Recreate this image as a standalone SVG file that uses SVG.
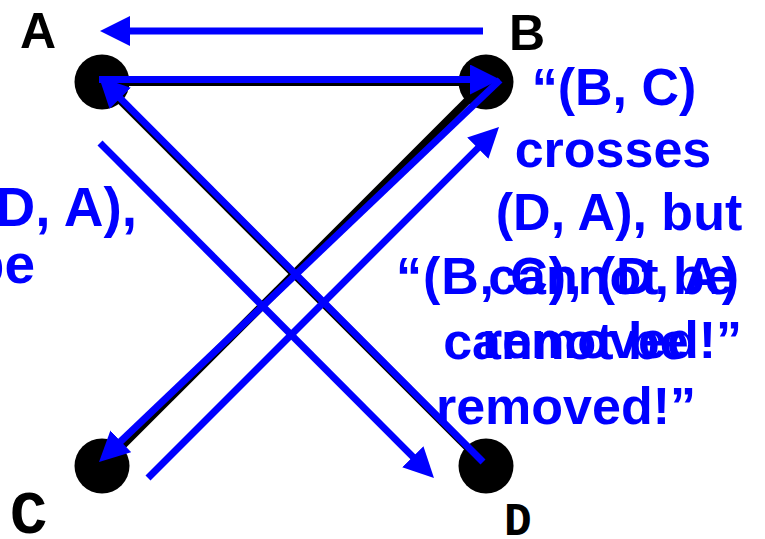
<svg xmlns="http://www.w3.org/2000/svg" width="765" height="539" viewBox="0 0 765 539">
<defs>
<style>
.edge{stroke:#000;stroke-width:8;fill:none}
.arr{stroke:#0000FF;stroke-width:7;fill:none;marker-end:url(#ah)}
.node{fill:#000}
.lbl{font-family:"Liberation Sans",Arial,sans-serif;font-weight:bold;fill:#000}
.mono{font-family:"Liberation Mono","Courier New",monospace;font-weight:bold;fill:#000}
.note{font-family:"Liberation Sans",Arial,sans-serif;font-weight:bold;font-size:52px;fill:#0000FF}
</style>
<marker id="ah" viewBox="0 0 30 30" refX="15" refY="15" markerWidth="30" markerHeight="30" markerUnits="userSpaceOnUse" orient="auto">
<path d="M0,0 L30,15 L0,30 z" fill="#0000FF"/>
</marker>
</defs>
<rect width="765" height="539" fill="#fff"/>
<g id="nodes">
<g id="node-A"><circle class="node" cx="102" cy="82" r="27.5"/><text class="lbl" x="20" y="48" font-size="50">A</text></g>
<g id="node-B"><circle class="node" cx="486" cy="82" r="27.5"/><text class="lbl" x="509" y="50" font-size="50">B</text></g>
<g id="node-C"><circle class="node" cx="102" cy="466" r="27.5"/><text class="mono" x="10" y="533" font-size="62">C</text></g>
<g id="node-D"><circle class="node" cx="486" cy="466" r="27.5"/><text class="mono" x="504" y="535" font-size="46">D</text></g>
</g>
<g id="connectors">
<line class="edge" x1="102" y1="82" x2="486" y2="82"/>
<line class="edge" x1="486" y1="82" x2="102" y2="466"/>
<line class="edge" x1="102" y1="82" x2="486" y2="466"/>
<line class="arr" x1="483" y1="31" x2="115" y2="31"/>
<line class="arr" x1="99" y1="79.5" x2="485" y2="79.5"/>
<line class="arr" x1="500" y1="80" x2="109.9" y2="451.6"/>
<line class="arr" x1="483" y1="462" x2="109.6" y2="87.6"/>
<line class="arr" x1="100" y1="143" x2="423.4" y2="467.4"/>
<line class="arr" x1="148" y1="478" x2="488.4" y2="137.6"/>
</g>
<g id="notes">
<text class="note" text-anchor="end" style="font-size:55px"><tspan x="137" y="226">(D, A),</tspan><tspan x="35" y="283">cannot be</tspan></text>
<text class="note" text-anchor="middle"><tspan x="614" y="105">“(B, C)</tspan><tspan x="613" y="167">crosses</tspan><tspan x="619" y="230">(D, A), but</tspan><tspan x="611" y="294">cannot be</tspan><tspan x="612" y="358">removed!”</tspan></text>
<text class="note" x="396" y="294" textLength="343" lengthAdjust="spacing">“(B, C), (D, A)</text>
<text class="note" text-anchor="middle"><tspan x="566" y="359">cannot be</tspan><tspan x="566" y="424">removed!”</tspan></text>
</g>
</svg>
